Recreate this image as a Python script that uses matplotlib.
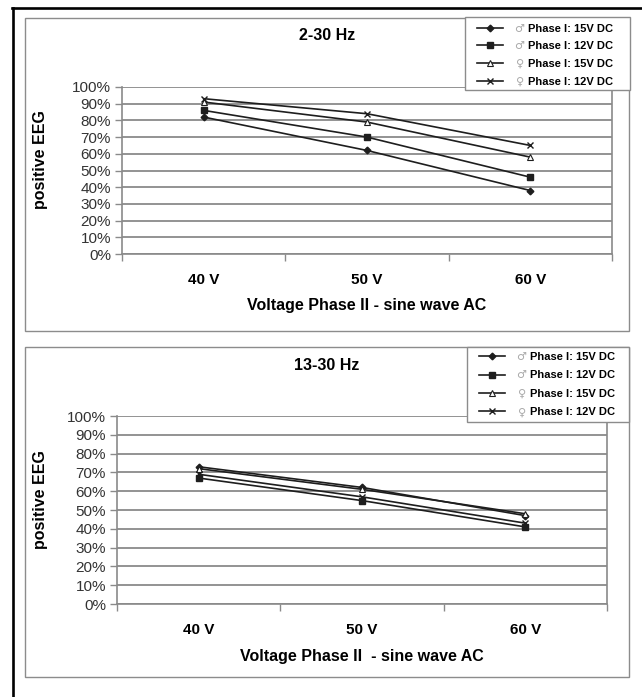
import matplotlib
matplotlib.use("Agg")
import matplotlib.pyplot as plt
from matplotlib.patches import Rectangle
from matplotlib.lines import Line2D
from matplotlib.ticker import PercentFormatter, FixedLocator
from matplotlib.transforms import IdentityTransform

plt.rcParams['font.family'] = ['Liberation Sans', 'DejaVu Sans']

# ---------------- data ----------------
categories = ["40 V", "50 V", "60 V"]
series_labels = ["Phase I: 15V DC", "Phase I: 12V DC", "Phase I: 15V DC", "Phase I: 12V DC"]
series_sex = ["\u2642", "\u2642", "\u2640", "\u2640"]

# 2-30 Hz panel (fractions of 1)
top_male_15 = [0.82, 0.62, 0.38]
top_male_12 = [0.86, 0.70, 0.46]
top_female_15 = [0.91, 0.79, 0.58]
top_female_12 = [0.93, 0.84, 0.65]

# 13-30 Hz panel
bot_male_15 = [0.73, 0.62, 0.47]
bot_male_12 = [0.67, 0.55, 0.41]
bot_female_15 = [0.72, 0.61, 0.48]
bot_female_12 = [0.69, 0.57, 0.43]

titles = ["2-30 Hz", "13-30 Hz"]
xtitles = ["Voltage Phase II - sine wave AC", "Voltage Phase II  - sine wave AC"]
ytitle = "positive EEG"
yticks = [i / 10 for i in range(11)]

# ---------------- layout ----------------
W, H = 642, 697
fig = plt.figure(figsize=(W / 100, H / 100), dpi=100)
fig.patch.set_facecolor("white")


def fx(x):
    return x / W


def fy(y):
    return 1 - y / H


GRID = "#8a8a8a"
LINE = "#1e1e1e"

styles = [
    dict(marker="D", markersize=3.4, markerfacecolor=LINE, markeredgecolor=LINE),
    dict(marker="s", markersize=5.0, markerfacecolor=LINE, markeredgecolor=LINE),
    dict(marker="^", markersize=4.4, markerfacecolor="white", markeredgecolor=LINE, markeredgewidth=0.8),
    dict(marker="x", markersize=4.4, markeredgecolor=LINE, markeredgewidth=1.0),
]

# black outer frame (left and top)
fig.add_artist(Line2D([fx(13), fx(13)], [fy(8), fy(H + 2)], transform=fig.transFigure,
                      color="black", lw=1.9))
fig.add_artist(Line2D([fx(12), fx(W + 2)], [fy(8), fy(8)], transform=fig.transFigure,
                      color="black", lw=1.9))

panels = [
    dict(panel=(25, 18, 629, 331), axes=(122, 87, 612, 254),
         legend=(465, 17, 630, 90), first_row=30, spacing=0.70,
         data=[top_male_15, top_male_12, top_female_15, top_female_12]),
    dict(panel=(25, 347, 629, 677), axes=(117, 416, 607, 604),
         legend=(467, 347, 629, 422), first_row=358.5, spacing=0.76,
         data=[bot_male_15, bot_male_12, bot_female_15, bot_female_12]),
]

legend_infos = []
for k, p in enumerate(panels):
    x0, y0, x1, y1 = p["panel"]
    fig.add_artist(Rectangle((fx(x0), fy(y1)), (x1 - x0) / W, (y1 - y0) / H,
                             transform=fig.transFigure, fill=False,
                             edgecolor="#8c8c8c", lw=1.0, zorder=1))
    ax0, ay0, ax1_, ay1 = p["axes"]
    ax = fig.add_axes([fx(ax0), fy(ay1), (ax1_ - ax0) / W, (ay1 - ay0) / H])
    ax.set_facecolor("white")
    xs = list(range(len(categories)))
    handles = []
    for vals, st in zip(p["data"], styles):
        h, = ax.plot(xs, vals, color=LINE, lw=1.2, clip_on=False, zorder=3, **st)
        handles.append(h)
    ax.set_xlim(-0.5, len(categories) - 0.5)
    ax.set_ylim(0, 1)
    ax.set_yticks(yticks)
    ax.yaxis.set_major_formatter(PercentFormatter(1.0, decimals=0))
    ax.set_xticks(xs)
    ax.set_xticklabels(categories, fontweight="bold", fontsize=11)
    ax.xaxis.set_minor_locator(FixedLocator([i - 0.5 for i in range(len(categories) + 1)]))
    ax.tick_params(axis="x", which="major", length=0, pad=14, colors="black")
    ax.tick_params(axis="x", which="minor", length=5, width=1.0, color=GRID, direction="out")
    ax.tick_params(axis="y", which="major", length=5, width=1.0, color=GRID,
                   labelsize=11, labelcolor="#333333", pad=3)
    ax.grid(axis="y", color=GRID, lw=1.3)
    ax.set_axisbelow(True)
    for s in ["left", "bottom", "right"]:
        ax.spines[s].set_color(GRID)
        ax.spines[s].set_linewidth(1.2)
    ax.spines["top"].set_visible(False)

    # titles
    fig.text(fx((x0 + x1) / 2), fy(y0 + 18), titles[k], ha="center", va="center",
             fontsize=11.5, fontweight="bold")
    fig.text(fx((ax0 + ax1_) / 2), fy(ay1 + 52), xtitles[k], ha="center", va="center",
             fontsize=11.5, fontweight="bold")
    fig.text(fx(41), fy(160 if k == 0 else 500), ytitle, ha="center", va="center",
             rotation=90, fontsize=11.5, fontweight="bold")

    # legend
    lx0, ly0, lx1, ly1 = p["legend"]
    fig.add_artist(Rectangle((fx(lx0), fy(ly1)), (lx1 - lx0) / W, (ly1 - ly0) / H,
                             transform=fig.transFigure, facecolor="white",
                             edgecolor="#8c8c8c", lw=1.0, zorder=5))
    leg = fig.legend(handles, series_labels, loc="upper left",
                     bbox_to_anchor=(fx(lx0 + 12), fy(p["first_row"] - 6.5)),
                     frameon=False, borderpad=0, borderaxespad=0,
                     handlelength=2.3, handletextpad=2.3, labelspacing=p["spacing"],
                     prop=dict(weight="bold", size=8))
    leg.set_zorder(6)
    legend_infos.append(leg)

fig.canvas.draw()
for leg in legend_infos:
    for t, sym in zip(leg.get_texts(), series_sex):
        bb = t.get_window_extent()
        fig.text(bb.x0 - 4, (bb.y0 + bb.y1) / 2, sym, transform=IdentityTransform(),
                 ha="right", va="center", fontsize=8, color="#a8a8a8",
                 family=["DejaVu Sans"], zorder=7)

fig.savefig("out.png", dpi=100, facecolor="white")
